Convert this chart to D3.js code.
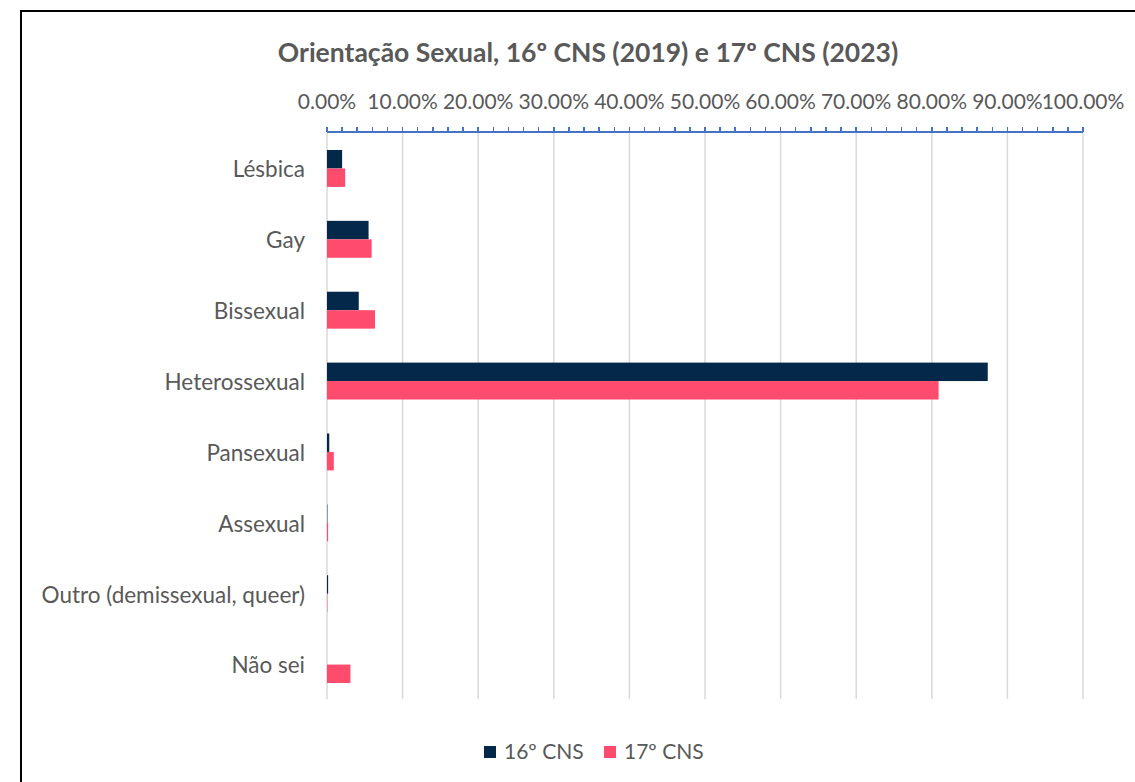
<!DOCTYPE html>
<meta charset="utf-8">
<head>
    <style>
        body { margin: 0; background: #fff; }
        text { font-family: Lato, "Open Sans", sans-serif; fill: #595959; }
        .grid line { stroke: #d9d9d9; stroke-width: 1.5px; }
        .axis path, .axis line { stroke: #4472c4; stroke-width: 1.5px; shape-rendering: crispEdges; }
    </style>
</head>
<body>
<script src="https://d3js.org/d3.v7.min.js"></script>
<script>
    // data
    var categories = ["Lésbica", "Gay", "Bissexual", "Heterossexual", "Pansexual", "Assexual",
        "Outro (demissexual, queer)", "Não sei"];
    var cns16 = [2.0, 5.5, 4.2, 87.4, 0.3, 0.05, 0.15, 0];
    var cns17 = [2.4, 5.9, 6.35, 80.9, 0.9, 0.15, 0.05, 3.1];
    var seriesNames = ["16º CNS", "17º CNS"];
    var colors = ["#03284a", "#ff4b6e"];
    var xTicks = [0, 10, 20, 30, 40, 50, 60, 70, 80, 90, 100];

    var W = 1135, H = 782;
    var plot = {left: 327, right: 1083, top: 132, bottom: 699};

    var svg = d3.select("body").append("svg")
        .attr("width", W)
        .attr("height", H);

    // outer frame (runs off the right and bottom edge)
    svg.append("rect")
        .attr("x", 21).attr("y", 11)
        .attr("width", 1200).attr("height", 900)
        .attr("fill", "#fff")
        .attr("stroke", "#000")
        .attr("stroke-width", 2);

    var x = d3.scaleLinear().domain([0, 100]).range([plot.left, plot.right]);
    var y = d3.scaleBand().domain(categories).range([plot.top, plot.bottom]);
    var inner = d3.scaleBand().domain(seriesNames).range([0, y.bandwidth()])
        .paddingInner(0).paddingOuter(0.92);

    // gridlines
    svg.append("g").attr("class", "grid")
        .selectAll("line")
        .data(xTicks)
        .enter().append("line")
        .attr("x1", d => x(d)).attr("x2", d => x(d))
        .attr("y1", plot.top).attr("y2", plot.bottom);

    // top axis with minor ticks
    var axis = svg.append("g").attr("class", "axis")
        .attr("transform", "translate(0," + plot.top + ")");
    axis.append("line")
        .attr("x1", plot.left).attr("x2", plot.right);
    axis.selectAll(".minor")
        .data(d3.range(0, 101, 2))
        .enter().append("line")
        .attr("x1", d => x(d)).attr("x2", d => x(d))
        .attr("y1", -5).attr("y2", 0);
    axis.selectAll(".lbl")
        .data(xTicks)
        .enter().append("text")
        .attr("x", d => x(d))
        .attr("y", -23)
        .attr("text-anchor", "middle")
        .style("font-size", "21px")
        .text(d => d.toFixed(2) + "%");

    // bars
    var series = [cns16, cns17];
    series.forEach(function (vals, si) {
        svg.append("g").selectAll("rect")
            .data(vals)
            .enter().append("rect")
            .attr("x", x(0))
            .attr("y", (d, i) => y(categories[i]) + inner(seriesNames[si]) + 1)
            .attr("width", d => x(d) - x(0))
            .attr("height", inner.bandwidth())
            .attr("fill", colors[si]);
    });

    // category labels
    svg.append("g").selectAll("text")
        .data(categories)
        .enter().append("text")
        .attr("x", 305)
        .attr("y", d => y(d) + y.bandwidth() / 2 + 2)
        .attr("dy", "0.35em")
        .attr("text-anchor", "end")
        .style("font-size", "22.5px")
        .text(d => d);

    // title
    svg.append("text")
        .attr("x", 588).attr("y", 62)
        .attr("text-anchor", "middle")
        .style("font-size", "26.5px")
        .style("font-weight", "bold")
        .text("Orientação Sexual, 16º CNS (2019) e 17º CNS (2023)");

    // legend
    var legendX = [484, 604];
    var lg = svg.append("g").selectAll("g")
        .data(seriesNames)
        .enter().append("g")
        .attr("transform", (d, i) => "translate(" + legendX[i] + ",746)");
    lg.append("rect")
        .attr("width", 12).attr("height", 12)
        .attr("fill", (d, i) => colors[i]);
    lg.append("text")
        .attr("x", 20).attr("y", 6)
        .attr("dy", "0.35em")
        .style("font-size", "21px")
        .text(d => d);
</script>
</body>
